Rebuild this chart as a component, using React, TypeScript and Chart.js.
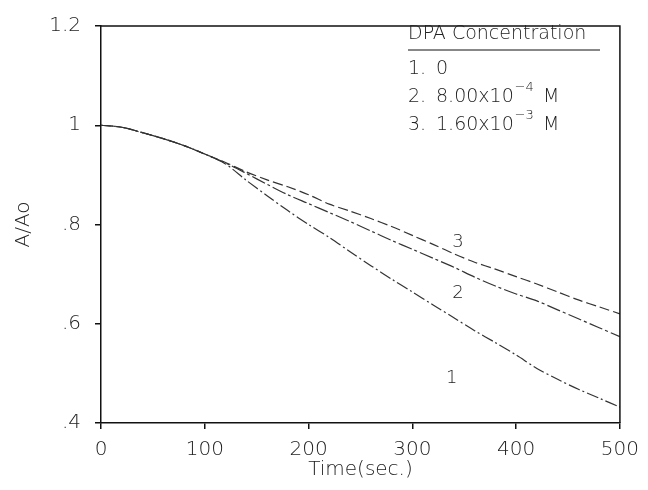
import React, { useEffect, useRef } from "react";
import { Chart, registerables } from "chart.js";

Chart.register(...registerables);

const times = [0, 20, 40, 60, 80, 100, 120, 140, 160, 180, 200, 220, 240, 260, 280, 300, 320, 340, 360, 380, 400, 420, 440, 460, 480, 500];
const series1 = [1.0, 0.996, 0.985, 0.973, 0.959, 0.942, 0.922, 0.889, 0.858, 0.828, 0.8, 0.774, 0.745, 0.717, 0.69, 0.664, 0.638, 0.612, 0.586, 0.562, 0.537, 0.51, 0.488, 0.468, 0.45, 0.432];
const series2 = [1.0, 0.996, 0.985, 0.973, 0.959, 0.942, 0.924, 0.903, 0.881, 0.86, 0.842, 0.824, 0.806, 0.787, 0.768, 0.75, 0.732, 0.714, 0.694, 0.676, 0.66, 0.646, 0.628, 0.61, 0.592, 0.574];
const series3 = [1.0, 0.996, 0.985, 0.973, 0.959, 0.942, 0.925, 0.906, 0.89, 0.876, 0.86, 0.841, 0.827, 0.812, 0.796, 0.778, 0.76, 0.741, 0.724, 0.71, 0.695, 0.68, 0.664, 0.648, 0.634, 0.62];
const seriesNames = ["1", "2", "3"];
const curveLabelAt = [{ t: 338, v: 0.49 }, { t: 344, v: 0.662 }, { t: 344, v: 0.765 }];
const legendTitle = "DPA Concentration";
const legendRows = [
  { num: "1.", base: "0", sup: "", unit: "" },
  { num: "2.", base: "8.00x10", sup: "−4", unit: " M" },
  { num: "3.", base: "1.60x10", sup: "−3", unit: " M" },
];
const xTicks = [0, 100, 200, 300, 400, 500];
const yTicks = [0.4, 0.6, 0.8, 1.0, 1.2];

const FONT = "'DejaVu Sans', sans-serif";
const W = "200";

export default function App() {
  const ref = useRef<HTMLCanvasElement | null>(null);
  useEffect(() => {
    const canvas = ref.current!;
    const toPts = (arr: number[]) => times.map((t, i) => ({ x: t, y: arr[i] }));
    const overlay = {
      id: "overlay",
      afterDraw(chart: any) {
        const { ctx, chartArea, scales } = chart;
        const xs = scales.x, ys = scales.y;
        ctx.save();
        ctx.strokeStyle = "#111";
        ctx.lineWidth = 1.5;
        ctx.beginPath();
        ctx.moveTo(chartArea.left, chartArea.top);
        ctx.lineTo(chartArea.right, chartArea.top);
        ctx.lineTo(chartArea.right, chartArea.bottom);
        ctx.stroke();
        ctx.fillStyle = "#222";
        ctx.font = `${W} 19px ${FONT}`;
        ctx.textBaseline = "middle";
        ctx.textAlign = "left";
        ctx.fillText(legendTitle, 408, 34);
        const w = ctx.measureText(legendTitle).width;
        ctx.lineWidth = 1;
        ctx.beginPath();
        ctx.moveTo(408, 50);
        ctx.lineTo(Math.max(600, 408 + w), 50);
        ctx.stroke();
        legendRows.forEach((r, i) => {
          const y = 69 + i * 28;
          ctx.font = `${W} 19px ${FONT}`;
          ctx.fillText(r.num, 408, y);
          let x = 436;
          ctx.fillText(r.base, x, y);
          x += ctx.measureText(r.base).width;
          if (r.sup) {
            ctx.font = `${W} 13px ${FONT}`;
            ctx.fillText(r.sup, x + 1, y - 9);
            x += ctx.measureText(r.sup).width + 4;
            ctx.font = `${W} 19px ${FONT}`;
          }
          if (r.unit) ctx.fillText(r.unit, x, y);
        });
        ctx.font = `${W} 18px ${FONT}`;
        ctx.textAlign = "center";
        curveLabelAt.forEach((p, i) => {
          ctx.fillText(seriesNames[i], xs.getPixelForValue(p.t), ys.getPixelForValue(p.v));
        });
        ctx.restore();
      },
    };
    const chart = new Chart(canvas, {
      type: "line",
      data: {
        datasets: [
          { label: seriesNames[0], data: toPts(series1), borderColor: "#333", borderWidth: 1.2, borderDash: [12, 3, 2, 3], pointRadius: 0, tension: 0.3 },
          { label: seriesNames[1], data: toPts(series2), borderColor: "#333", borderWidth: 1.2, borderDash: [14, 3, 3, 3], pointRadius: 0, tension: 0.3 },
          { label: seriesNames[2], data: toPts(series3), borderColor: "#333", borderWidth: 1.2, borderDash: [10, 4], pointRadius: 0, tension: 0.3 },
        ],
      },
      options: {
        animation: false,
        responsive: false,
        layout: { padding: { top: 22, right: 26, left: 0, bottom: 0 } },
        plugins: { legend: { display: false }, tooltip: { enabled: false } },
        scales: {
          x: {
            type: "linear",
            min: 0,
            max: 500,
            afterBuildTicks: (s: any) => { s.ticks = xTicks.map((v) => ({ value: v })); },
            afterFit: (s: any) => { s.height = 67; },
            ticks: { color: "#222", font: { family: FONT, size: 20, weight: W }, padding: 9, maxRotation: 0, autoSkip: false },
            grid: { display: true, drawOnChartArea: false, drawTicks: true, tickLength: 6, color: "#111", lineWidth: 1.5 },
            border: { display: true, color: "#111", width: 1.5 },
            title: { display: true, text: "Time(sec.)", color: "#222", font: { family: FONT, size: 20, weight: W }, padding: { top: 0, bottom: 8 } },
          },
          y: {
            type: "linear",
            min: 0.4,
            max: 1.2,
            afterBuildTicks: (s: any) => { s.ticks = yTicks.map((v) => ({ value: v })); },
            afterFit: (s: any) => { s.width = 101; },
            ticks: {
              color: "#222",
              font: { family: FONT, size: 20, weight: W },
              padding: 14,
              callback: (v: any) => {
                const n = Math.round(Number(v) * 10) / 10;
                const s = String(n);
                return s.startsWith("0") ? s.slice(1) : s;
              },
            },
            grid: { display: true, drawOnChartArea: false, drawTicks: true, tickLength: 6, color: "#111", lineWidth: 1.5 },
            border: { display: true, color: "#111", width: 1.5 },
            title: { display: true, text: "A/Ao", color: "#222", font: { family: FONT, size: 20, weight: W }, padding: { top: 12, bottom: 0 } },
          },
        },
      },
      plugins: [overlay],
    } as any);
    return () => chart.destroy();
  }, []);
  return (
    <div style={{ position: "absolute", left: 0, top: 0, width: 648, height: 490, background: "#fff" }}>
      <canvas ref={ref} width={648} height={490} style={{ display: "block", width: 648, height: 490 }} />
    </div>
  );
}
